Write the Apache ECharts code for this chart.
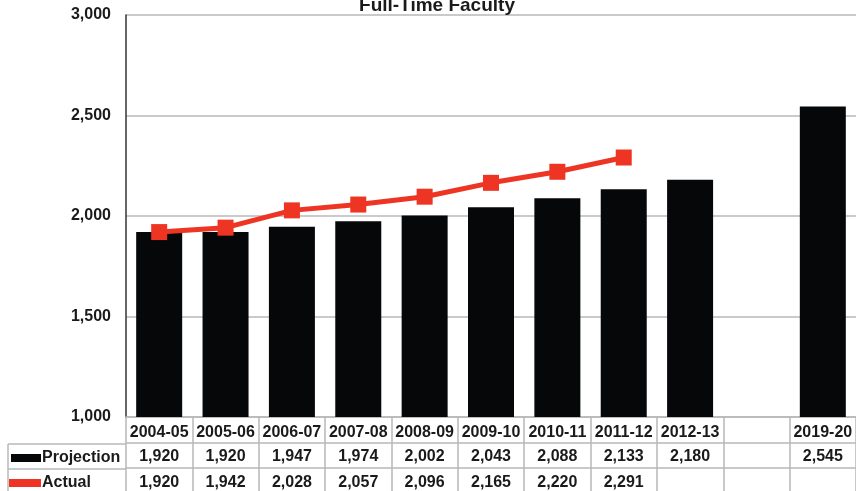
<!DOCTYPE html>
<html>
<head>
<meta charset="utf-8">
<script src="https://cdn.jsdelivr.net/npm/echarts@6/dist/echarts.min.js"></script>
<style>
  html, body { margin: 0; padding: 0; background: #fff; }
  #chart { width: 856px; height: 491px; }
</style>
</head>
<body>
<div id="chart"></div>
<script>
// Full-time faculty: projected headcount vs. actual headcount by academic year
const years = ['2004-05', '2005-06', '2006-07', '2007-08', '2008-09', '2009-10',
               '2010-11', '2011-12', '2012-13', '', '2019-20'];
const projection = [1920, 1920, 1947, 1974, 2002, 2043, 2088, 2133, 2180, null, 2545];
const actual = [1920, 1942, 2028, 2057, 2096, 2165, 2220, 2291, null, null, null];
const yTicks = [1000, 1500, 2000, 2500, 3000];

const FONT = '"Liberation Sans", Arial, sans-serif';
const GRID_LINE = '#b8b8b8';
const TEXT = '#1a1a1a';
const RED = '#ee3524';
const fmt = v => (v == null ? '' : v.toLocaleString('en-US'));

// x axes stacked under the plot form the data table rows
function tableAxis(offset, margin, values, withTicks) {
  return {
    type: 'category',
    data: years,
    position: 'bottom',
    offset: offset,
    gridIndex: 0,
    axisLine: { show: true, lineStyle: { color: GRID_LINE, width: 1.5 } },
    axisTick: withTicks
      ? { show: true, length: 80, lineStyle: { color: GRID_LINE, width: 1.5 } }
      : { show: false },
    axisLabel: {
      interval: 0,
      margin: margin,
      fontFamily: FONT,
      fontWeight: 'bold',
      fontSize: 16,
      color: TEXT,
      formatter: (val, idx) => (values ? fmt(values[idx]) : val)
    }
  };
}

// one legend per table row so each key sits in its own cell
function legendRow(name, top, extra) {
  return Object.assign({
    orient: 'vertical',
    left: 11,
    top: top,
    padding: 0,
    itemWidth: 30,
    itemHeight: 8,
    data: [{ name: name, icon: 'rect' }],
    textStyle: { fontFamily: FONT, fontWeight: 'bold', fontSize: 16, color: TEXT, padding: [0, 0, 0, -4] }
  }, extra || {});
}

const chart = echarts.init(document.getElementById('chart'));
chart.setOption({
  animation: false,
  title: {
    text: 'Full-Time Faculty',
    left: 432,
    textAlign: 'center',
    top: -9,
    textStyle: { fontFamily: FONT, fontWeight: 'bold', fontSize: 19, color: TEXT }
  },
  legend: [
    legendRow('Projection', 450),
    legendRow('Actual', 475, { left: 9, itemWidth: 32 })
  ],
  grid: { left: 126, right: -3, top: 15, bottom: 73 },
  xAxis: [
    tableAxis(0, 8, null, true),
    tableAxis(26, 6, projection, false),
    tableAxis(51, 7, actual, false)
  ],
  yAxis: {
    type: 'value',
    min: yTicks[0],
    max: yTicks[yTicks.length - 1],
    interval: 500,
    axisLine: { show: true, lineStyle: { color: '#333', width: 1.5 } },
    axisTick: { show: false },
    axisLabel: {
      margin: 15,
      fontFamily: FONT,
      fontWeight: 'bold',
      fontSize: 16,
      color: TEXT,
      formatter: v => fmt(v)
    },
    splitLine: { lineStyle: { color: GRID_LINE, width: 1.5 } }
  },
  graphic: [
    // left-hand legend cells of the data table
    { type: 'line', shape: { x1: 8, y1: 444, x2: 126, y2: 444 }, style: { stroke: GRID_LINE, lineWidth: 1.5 } },
    { type: 'line', shape: { x1: 8, y1: 469, x2: 126, y2: 469 }, style: { stroke: GRID_LINE, lineWidth: 1.5 } },
    { type: 'line', shape: { x1: 8, y1: 444, x2: 8, y2: 495 }, style: { stroke: GRID_LINE, lineWidth: 1.5 } }
  ],
  series: [
    {
      name: 'Projection',
      type: 'bar',
      data: projection,
      barWidth: 46,
      itemStyle: { color: '#050708' }
    },
    {
      name: 'Actual',
      type: 'line',
      data: actual,
      symbol: 'rect',
      symbolSize: 16,
      z: 5,
      lineStyle: { color: RED, width: 5 },
      itemStyle: { color: RED }
    }
  ]
});
</script>
</body>
</html>
